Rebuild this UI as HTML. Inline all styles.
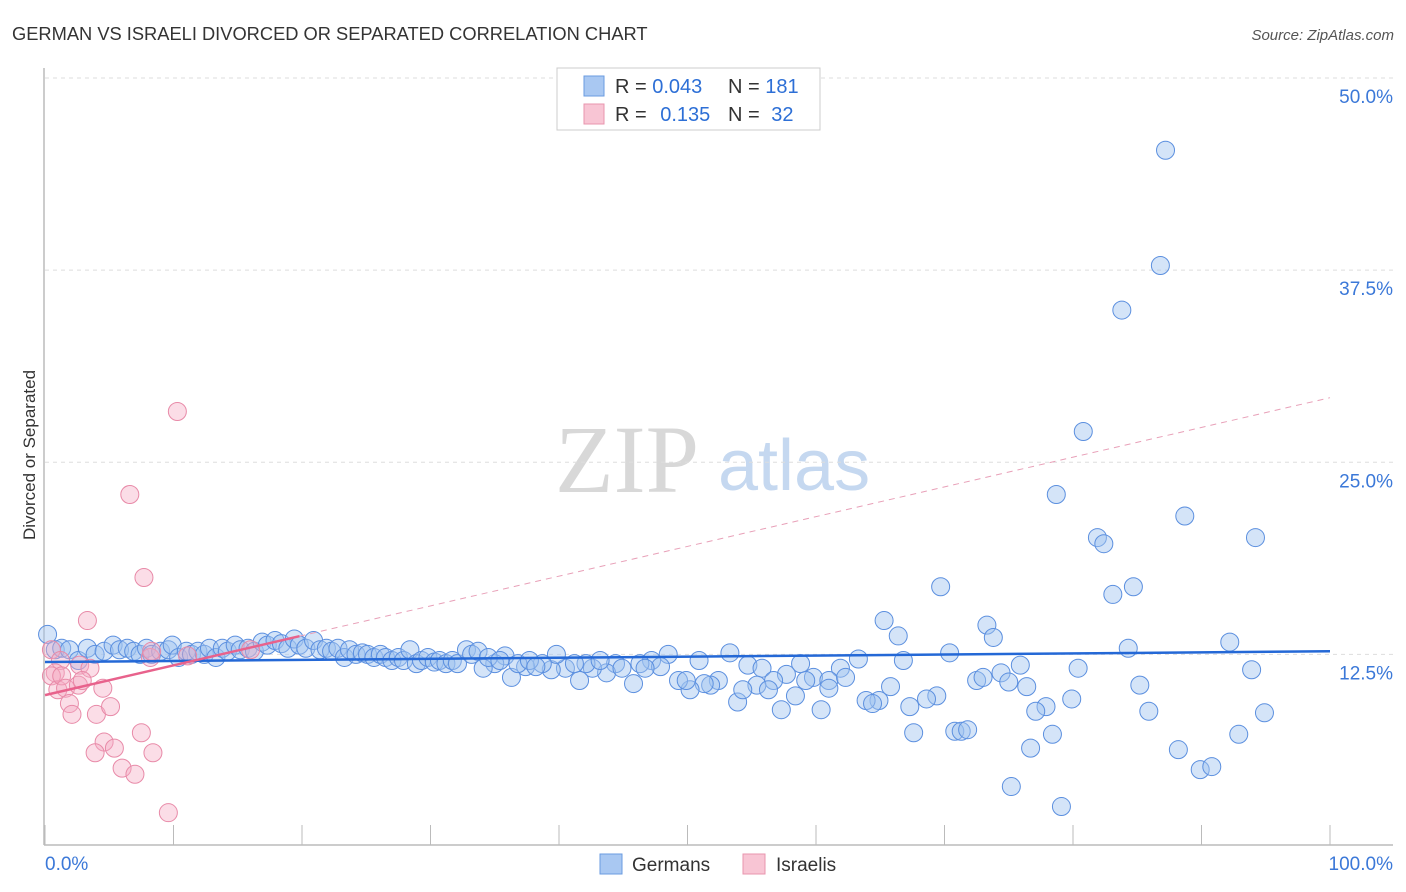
<!DOCTYPE html>
<html><head><meta charset="utf-8"><style>
body{margin:0;background:#fff;font-family:"Liberation Sans",sans-serif;}
#wrap{position:relative;width:1406px;height:892px;overflow:hidden}
</style></head><body><div id="wrap">
<svg id="svg" width="1406" height="892" xmlns="http://www.w3.org/2000/svg">
<text x="12" y="40" font-size="18.3" fill="#333">GERMAN VS ISRAELI DIVORCED OR SEPARATED CORRELATION CHART</text>
<text x="1394" y="40" font-size="15" fill="#555" font-style="italic" text-anchor="end">Source: ZipAtlas.com</text>
<text x="35" y="455" font-size="17" fill="#333" text-anchor="middle" transform="rotate(-90 35 455)">Divorced or Separated</text>
<g><text x="555" y="492" font-size="96" fill="#d8d8d8" font-family="Liberation Serif,serif">ZIP</text><text x="718" y="490" font-size="72" fill="#c5d8f0">atlas</text></g>
<g id="grid"></g><g id="axes"></g><g id="pts"></g><g id="lines"></g>
<g>
<rect x="557" y="68" width="263" height="62" fill="#fff" stroke="#ccc"/>
<rect x="584" y="76" width="20" height="20" fill="#a9c8f2" stroke="#6a9be0"/>
<rect x="584" y="104" width="20" height="20" fill="#f8c5d4" stroke="#e895ae"/>
<text x="615" y="93" font-size="20" fill="#333">R = <tspan fill="#2d6fd6">0.043</tspan></text>
<text x="728" y="93" font-size="20" fill="#333">N = <tspan fill="#2d6fd6">181</tspan></text>
<text x="615" y="121" font-size="20" fill="#333">R = <tspan fill="#2d6fd6" dx="8">0.135</tspan></text>
<text x="728" y="121" font-size="20" fill="#333">N = <tspan fill="#2d6fd6" dx="6">32</tspan></text>
</g>
<g>
<rect x="600" y="854" width="22" height="20" fill="#a9c8f2" stroke="#6a9be0"/>
<text x="632" y="871" font-size="19" fill="#333">Germans</text>
<rect x="743" y="854" width="22" height="20" fill="#f8c5d4" stroke="#e895ae"/>
<text x="776" y="871" font-size="19" fill="#333">Israelis</text>
</g>
<text x="45" y="870" font-size="19" fill="#3b78d8">0.0%</text>
<text x="1393" y="870" font-size="19" fill="#3b78d8" text-anchor="end">100.0%</text>
</svg></div>
<script>
const yTicks=[12.5,25,37.5,50];
const yTickLabels=["12.5%","25.0%","37.5%","50.0%"];
const xTicks=[0,10,20,30,40,50,60,70,80,90,100];
const germanX=[87.2,86.8,83.8,80.8,78.7,88.7,94.2,81.9,82.4,84.7,83.1,69.7,65.3,73.3,66.4,73.8,92.2,84.3,70.4,63.3,66.8,75.9,80.4,93.9,74.4,72.5,73.0,75.0,76.4,85.2,65.8,69.4,68.6,64.9,63.9,64.4,79.9,77.9,77.1,85.9,94.9,67.3,57.3,60.4,58.4,53.9,67.6,70.8,71.3,71.8,78.4,92.9,76.7,88.2,89.9,90.8,75.2,79.1,
53.3,50.9,54.7,55.8,58.8,61.9,57.7,59.8,59.2,61.0,61.0,62.3,56.7,55.4,54.3,56.3,52.4,51.8,51.3,50.2,49.3,49.9,48.5,47.2,47.9,45.8,44.4,43.7,42.6,41.6,42.1,40.5,39.4,39.8,38.7,37.4,36.3,35.8,35.0,34.1,
0.2,0.8,1.3,1.9,2.6,3.3,3.9,4.6,5.3,5.8,6.4,6.9,7.4,7.9,8.3,9.0,9.6,9.9,10.4,11.0,11.4,11.9,12.4,12.8,13.3,13.8,14.2,14.8,15.2,15.8,16.3,16.9,17.3,17.9,18.4,18.9,19.4,19.8,20.3,20.9,21.4,21.9,22.3,22.8,23.3,23.7,24.2,24.7,25.1,25.6,26.1,26.5,27.0,27.5,27.9,28.4,28.9,29.3,29.8,30.3,30.7,31.2,31.7,32.1,32.8,33.2,33.7,34.5,35.4,36.8,37.7,38.2,41.2,43.2,44.9,46.3,46.7];
const germanY=[45.3,37.8,34.9,27.0,22.9,21.5,20.1,20.1,19.7,16.9,16.4,16.9,14.7,14.4,13.7,13.6,13.3,12.9,12.6,12.2,12.1,11.8,11.6,11.5,11.3,10.8,11.0,10.7,10.4,10.5,10.4,9.8,9.6,9.5,9.5,9.3,9.6,9.1,8.8,8.8,8.7,9.1,8.9,8.9,9.8,9.4,7.4,7.5,7.5,7.6,7.3,7.3,6.4,6.3,5.0,5.2,3.9,2.6,
12.6,12.1,11.8,11.6,11.9,11.6,11.2,11.0,10.8,10.8,10.3,11.0,10.8,10.5,10.2,10.2,10.8,10.5,10.6,10.2,10.8,10.8,12.5,12.1,11.7,10.6,11.9,11.3,11.6,10.8,11.9,11.6,11.5,12.5,11.9,11.7,11.0,12.4,11.9,11.6,
13.8,12.8,12.9,12.8,12.1,12.9,12.5,12.7,13.1,12.8,12.9,12.7,12.5,12.9,12.5,12.7,12.8,13.1,12.3,12.7,12.5,12.7,12.5,12.9,12.3,12.9,12.7,13.1,12.8,12.9,12.7,13.3,13.1,13.4,13.2,12.9,13.5,13.1,12.9,13.4,12.8,12.9,12.7,12.9,12.3,12.8,12.5,12.6,12.5,12.3,12.5,12.3,12.1,12.3,12.1,12.8,11.9,12.1,12.3,12.0,12.1,11.9,12.1,11.9,12.8,12.5,12.7,12.3,12.1,11.9,12.1,11.7,11.9,12.1,11.6,11.9,11.6];
const israeliX=[10.3,6.6,7.7,3.3,0.5,1.2,0.8,0.5,1.0,1.3,2.7,3.5,1.6,2.6,2.9,1.9,2.1,4.0,5.1,4.5,8.2,8.3,11.1,16.0,7.5,4.6,5.4,3.9,8.4,6.0,7.0,9.6];
const israeliY=[28.3,22.9,17.5,14.7,12.8,12.1,11.3,11.1,10.2,11.1,11.8,11.6,10.3,10.5,10.8,9.3,8.6,8.6,9.1,10.3,12.3,12.7,12.4,12.8,7.4,6.8,6.4,6.1,6.1,5.1,4.7,2.2];
const germanTrend=[12.0,12.7];
const israeliTrend=[9.85,29.2];
const israeliSolidEnd=19.8;

const NS="http://www.w3.org/2000/svg";
const X=v=>45+v*12.85, Y=v=>846.5-v*15.37;
function mk(tag,attrs,parent){const e=document.createElementNS(NS,tag);for(const k in attrs)e.setAttribute(k,attrs[k]);document.getElementById(parent).appendChild(e);return e;}
yTicks.forEach((t,i)=>{
 const g=mk('line',{x1:45,x2:1393,y1:Y(t),y2:Y(t),stroke:'#ddd','stroke-dasharray':'4,4'},'grid');
 
 
 const l=mk('text',{x:1393,y:Y(t)+25,'font-size':19,fill:'#3b78d8','text-anchor':'end'},'grid');
 l.textContent=yTickLabels[i];
 
 
});
const ya=mk('line',{x1:44,x2:44,y1:68,y2:845,stroke:'#bbb','stroke-width':1.5},'axes');


const xa=mk('line',{x1:44,x2:1393,y1:845,y2:845,stroke:'#bbb','stroke-width':1.5},'axes');


xTicks.forEach(t=>{
 const k=mk('line',{x1:X(t),x2:X(t),y1:825,y2:845,stroke:'#bbb'},'axes');
 
 
});
germanX.forEach((x,i)=>{
 const c=mk('circle',{cx:X(x),cy:Y(germanY[i]),r:9,fill:'rgba(160,195,240,0.45)',stroke:'#5b8fdf','stroke-width':1},'pts');
 
 
});
israeliX.forEach((x,i)=>{
 const c=mk('circle',{cx:X(x),cy:Y(israeliY[i]),r:9,fill:'rgba(245,170,195,0.4)',stroke:'#e88aa8','stroke-width':1},'pts');
 
 
});
const gl=mk('line',{x1:X(0),y1:Y(germanTrend[0]),x2:X(100),y2:Y(germanTrend[1]),stroke:'#2468d6','stroke-width':2.5},'lines');


const sl=(israeliTrend[1]-israeliTrend[0])/100, ym=israeliTrend[0]+sl*israeliSolidEnd;
const il=mk('line',{x1:X(0),y1:Y(israeliTrend[0]),x2:X(israeliSolidEnd),y2:Y(ym),stroke:'#e8628c','stroke-width':2.5},'lines');


const id=mk('line',{x1:X(israeliSolidEnd),y1:Y(ym),x2:X(100),y2:Y(israeliTrend[1]),stroke:'#e8a0b8','stroke-width':1,'stroke-dasharray':'6,5'},'lines');


</script></body></html>
